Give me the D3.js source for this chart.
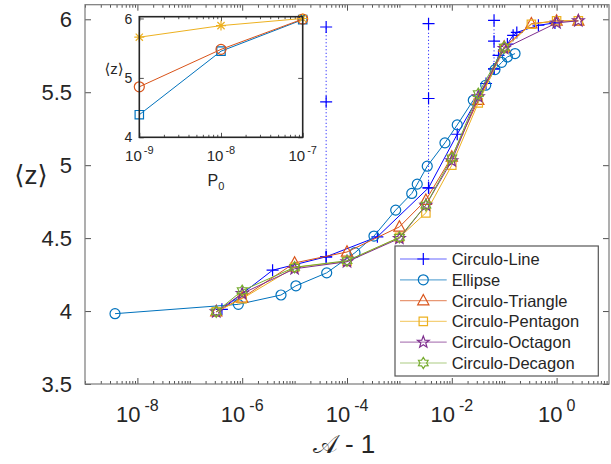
<!DOCTYPE html>
<html>
<head>
<meta charset="utf-8">
<script src="https://cdn.jsdelivr.net/npm/d3@7"></script>
<style>
  html, body { margin: 0; padding: 0; background: #fff; }
  svg { display: block; }
  text { font-family: "Liberation Sans", Arial, Helvetica, sans-serif; fill: #262626; }
</style>
</head>
<body>
<svg id="chart" width="611" height="464"></svg>
<script>
// ---- data -------------------------------------------------------------
const seriesNames = ["Circulo-Line", "Ellipse", "Circulo-Triangle", "Circulo-Pentagon", "Circulo-Octagon", "Circulo-Decagon"];

const lineA = [4.1e-7, 3.8e-6, 4e-5, 3.8e-4, 3.6e-3, 1.27e-2, 4.5e-2, 6.4e-2, 7.8e-2, 0.115, 0.148, 0.174, 0.45, 0.93];
const lineZ = [4.012, 4.28, 4.372, 4.509, 4.845, 5.212, 5.56, 5.66, 5.753, 5.83, 5.89, 5.91, 5.959, 5.975];

// Circulo-Line spread at three aspect ratios (dotted verticals)
const spreadA = [4e-5, 3.6e-3, 6.4e-2];
const spreadLow = [4.372, 4.845, 5.66];
const spreadMid = [5.434, 5.457, 5.85];
const spreadHigh = [5.947, 5.97, 5.993];

const ellipseA = [3.74e-9, 8.43e-7, 5.5e-6, 1.06e-5, 4.1e-5, 1.42e-4, 3.27e-4, 8.5e-4, 1.72e-3, 2.19e-3, 3.4e-3, 7.4e-3, 1.27e-2, 2.57e-2, 4.44e-2, 6.67e-2, 8.95e-2, 0.115, 0.161];
const ellipseZ = [3.982, 4.046, 4.11, 4.173, 4.262, 4.40, 4.514, 4.692, 4.806, 4.87, 4.993, 5.153, 5.276, 5.445, 5.548, 5.655, 5.705, 5.742, 5.765];

const triangleA = [3.2e-7, 1e-6, 1e-5, 1e-4, 1e-3, 3.2e-3, 1e-2, 3.2e-2, 0.1, 0.33, 1, 2.6];
const triangleZ = [3.995, 4.09, 4.33, 4.405, 4.577, 4.76, 5.057, 5.445, 5.81, 5.97, 5.988, 5.988];

const pentagonA = [3.2e-7, 1e-6, 1e-5, 1e-4, 1e-3, 3.2e-3, 1e-2, 3.2e-2, 0.1, 0.33, 1, 2.6];
const pentagonZ = [3.995, 4.085, 4.30, 4.34, 4.505, 4.673, 5.00, 5.427, 5.80, 5.966, 5.99, 5.99];

const octagonA = [3.2e-7, 1e-6, 1e-5, 1e-4, 1e-3, 3.2e-3, 1e-2, 3.2e-2, 0.1, 1, 2.6];
const octagonZ = [3.995, 4.12, 4.29, 4.338, 4.498, 4.726, 5.03, 5.47, 5.80, 5.975, 5.99];

const decagonA = [3.2e-7, 1e-6, 1e-5, 1e-4, 1e-3, 3.2e-3, 1e-2, 3.2e-2, 0.1];
const decagonZ = [3.995, 4.14, 4.30, 4.345, 4.505, 4.726, 5.05, 5.49, 5.81];

// inset: <z> against P0
const insetP = [1e-9, 1e-8, 1e-7];
const insetStarZ = [5.685, 5.88, 6.0];
const insetCircleZ = [4.85, 5.48, 5.99];
const insetSquareZ = [4.38, 5.45, 5.98];

const xTickExps = [-8, -6, -4, -2, 0];
const yTicks = [3.5, 4, 4.5, 5, 5.5, 6];
const insetXTickExps = [-9, -8, -7];
const insetYTicks = [4, 5, 6];

// ---- colours ----------------------------------------------------------
const C = {
  line: "#0000FF", ellipse: "#0072BD", tri: "#D95319",
  pent: "#EDB120", oct: "#7E2F8E", dec: "#77AC30"
};

// ---- marker paths -----------------------------------------------------
function plusPath(s) { return `M${-s},0H${s}M0,${-s}V${s}`; }
function asteriskPath(s) {
  const d = s * 0.72;
  return `M${-s},0H${s}M0,${-s}V${s}M${-d},${-d}L${d},${d}M${-d},${d}L${d},${-d}`;
}
function circlePath(r) { return `M${r},0A${r},${r} 0 1,1 ${-r},0A${r},${r} 0 1,1 ${r},0Z`; }
function squarePath(s) { return `M${-s},${-s}H${s}V${s}H${-s}Z`; }
function trianglePath(s) {
  return `M0,${-s * 1.1}L${s},${s * 0.75}L${-s},${s * 0.75}Z`;
}
function starPath(R, n, ratio) {
  const pts = [];
  for (let i = 0; i < 2 * n; i++) {
    const r = i % 2 === 0 ? R : R * ratio;
    const a = -Math.PI / 2 + i * Math.PI / n;
    pts.push([r * Math.cos(a), r * Math.sin(a)]);
  }
  return "M" + pts.map(p => p[0].toFixed(2) + "," + p[1].toFixed(2)).join("L") + "Z";
}
const markers = {
  plus: () => plusPath(6),
  circle: () => circlePath(5),
  triangle: () => trianglePath(5.6),
  square: () => squarePath(4.2),
  pentagram: () => starPath(6.2, 5, 0.42),
  hexagram: () => starPath(5.6, 6, 0.6),
  asterisk: () => asteriskPath(5)
};

// ---- main axes --------------------------------------------------------
const svg = d3.select("#chart");
svg.append("rect").attr("width", 611).attr("height", 464).attr("fill", "#fff");

const L = 85, R = 609, T = 4.7, B = 384;
const x = d3.scaleLog().domain([1e-9, 1e1]).range([L, R]);
const y = d3.scaleLinear().domain([3.5, 6.1]).range([B, T]);

const frameColor = "#7a7a7a";
const gAxes = svg.append("g");

// log-scale ticks: every k*10^n, majors at labelled decades
const minorVals = [];
for (let e = -9; e <= 0; e++) for (let k = 1; k <= 9; k++) {
  const v = k * Math.pow(10, e);
  if (k === 1 && xTickExps.includes(e)) continue;
  minorVals.push(v);
}
const majorVals = xTickExps.map(e => Math.pow(10, e));

function tickAxis(axisFn, scale, vals, size, tr) {
  const a = axisFn(scale).tickValues(vals).tickSize(size).tickFormat("");
  const g = gAxes.append("g").attr("transform", tr).call(a);
  g.select(".domain").remove();
  g.selectAll(".tick line").attr("stroke", "#262626").attr("stroke-width", 0.8);
  return g;
}
tickAxis(d3.axisBottom, x, minorVals, -3, `translate(0,${B})`);
tickAxis(d3.axisBottom, x, majorVals, -6, `translate(0,${B})`);
tickAxis(d3.axisTop, x, minorVals, -3, `translate(0,${T})`);
tickAxis(d3.axisTop, x, majorVals, -6, `translate(0,${T})`);
tickAxis(d3.axisLeft, y, yTicks, -6, `translate(${L},0)`);
tickAxis(d3.axisRight, y, yTicks, -6, `translate(${R},0)`);

gAxes.append("rect").attr("x", L).attr("y", T).attr("width", R - L).attr("height", B - T)
  .attr("fill", "none").attr("stroke", frameColor).attr("stroke-width", 1.2);

// tick labels
const yLab = svg.append("g");
yTicks.forEach(v => {
  yLab.append("text").attr("x", L - 13).attr("y", y(v)).attr("dy", "0.36em")
    .attr("text-anchor", "end").attr("font-size", 22).text(d3.format("")(v));
});
xTickExps.forEach(e => {
  const t = svg.append("text").attr("x", x(Math.pow(10, e))).attr("y", 422)
    .attr("text-anchor", "middle").attr("font-size", 22);
  t.append("tspan").text("10");
  t.append("tspan").attr("dx", 4).attr("dy", -11).attr("font-size", 16).text(String(e));
});

svg.append("text").attr("x", 344).attr("y", 453).attr("text-anchor", "middle")
  .attr("font-size", 26)
  .html('<tspan font-family="DejaVu Serif, serif">𝒜</tspan> - 1');
svg.append("text").attr("x", 31).attr("y", 175).attr("dy", "0.36em").attr("text-anchor", "middle")
  .attr("font-size", 26)
  .html('<tspan font-family="DejaVu Sans">⟨</tspan>z<tspan font-family="DejaVu Sans">⟩</tspan>');

// ---- data -------------------------------------------------------------
const plot = svg.append("g");

function drawSeries(g, xs, zs, color, marker, sx, sy) {
  const pts = xs.map((a, i) => [a, zs[i]]);
  g.append("path").attr("d", d3.line().x(d => sx(d[0])).y(d => sy(d[1]))(pts))
    .attr("fill", "none").attr("stroke", color).attr("stroke-width", 1);
  g.selectAll(null).data(pts).enter().append("path")
    .attr("transform", d => `translate(${sx(d[0])},${sy(d[1])})`)
    .attr("d", markers[marker]())
    .attr("fill", "none").attr("stroke", color).attr("stroke-width", 1.2);
}

// dotted spread lines for Circulo-Line
spreadA.forEach((a, i) => {
  const vals = [spreadLow[i], spreadMid[i], spreadHigh[i]];
  plot.append("line").attr("x1", x(a)).attr("x2", x(a))
    .attr("y1", y(spreadLow[i])).attr("y2", y(spreadHigh[i]))
    .attr("stroke", C.line).attr("stroke-width", 1).attr("stroke-dasharray", "1,2.5");
  vals.forEach(v => plot.append("path").attr("transform", `translate(${x(a)},${y(v)})`)
    .attr("d", markers.plus()).attr("fill", "none").attr("stroke", C.line).attr("stroke-width", 1.2));
});

drawSeries(plot, lineA, lineZ, C.line, "plus", x, y);
drawSeries(plot, ellipseA, ellipseZ, C.ellipse, "circle", x, y);
drawSeries(plot, triangleA, triangleZ, C.tri, "triangle", x, y);
drawSeries(plot, pentagonA, pentagonZ, C.pent, "square", x, y);
drawSeries(plot, octagonA, octagonZ, C.oct, "pentagram", x, y);
drawSeries(plot, decagonA, decagonZ, C.dec, "hexagram", x, y);

// ---- legend -----------------------------------------------------------
const leg = svg.append("g");
const lgX = 395, lgY = 246, lgW = 203.3, lgH = 130;
leg.append("rect").attr("x", lgX).attr("y", lgY).attr("width", lgW).attr("height", lgH)
  .attr("fill", "#fff").attr("stroke", "#555").attr("stroke-width", 1.2);
const legColors = [C.line, C.ellipse, C.tri, C.pent, C.oct, C.dec];
const legMarkers = ["plus", "circle", "triangle", "square", "pentagram", "hexagram"];
seriesNames.forEach((name, i) => {
  const cy = 259 + i * 20.8;
  leg.append("line").attr("x1", 400).attr("x2", 446.7).attr("y1", cy).attr("y2", cy)
    .attr("stroke", legColors[i]).attr("stroke-width", 1.2).attr("stroke-opacity", 0.6);
  leg.append("path").attr("transform", `translate(423.3,${cy})`).attr("d", markers[legMarkers[i]]())
    .attr("fill", "none").attr("stroke", legColors[i]).attr("stroke-width", 1.2);
  leg.append("text").attr("x", 451.7).attr("y", cy).attr("dy", "0.36em")
    .attr("font-size", 16.5).attr("fill", "#000").text(name);
});

// ---- inset ------------------------------------------------------------
const iL = 139.3, iR = 302.7, iT = 16.7, iB = 137.3;
const ix = d3.scaleLog().domain([1e-9, 1e-7]).range([iL, iR]);
const iy = d3.scaleLinear().domain([4, 6.03]).range([iB, iT]);
const inset = svg.append("g");
inset.append("rect").attr("x", iL).attr("y", iT).attr("width", iR - iL).attr("height", iB - iT)
  .attr("fill", "#fff");

const iMinor = [];
for (let e = -9; e < -7; e++) for (let k = 2; k <= 9; k++) iMinor.push(k * Math.pow(10, e));
const iMajor = insetXTickExps.map(e => Math.pow(10, e));
function insetTicks(axisFn, scale, vals, size, tr) {
  const g = inset.append("g").attr("transform", tr)
    .call(axisFn(scale).tickValues(vals).tickSize(size).tickFormat(""));
  g.select(".domain").remove();
  g.selectAll(".tick line").attr("stroke", "#262626").attr("stroke-width", 0.8);
}
insetTicks(d3.axisBottom, ix, iMinor, -2.5, `translate(0,${iB})`);
insetTicks(d3.axisBottom, ix, iMajor, -4.5, `translate(0,${iB})`);
insetTicks(d3.axisTop, ix, iMinor, -2.5, `translate(0,${iT})`);
insetTicks(d3.axisTop, ix, iMajor, -4.5, `translate(0,${iT})`);
insetTicks(d3.axisLeft, iy, insetYTicks, -4.5, `translate(${iL},0)`);
insetTicks(d3.axisRight, iy, insetYTicks, -4.5, `translate(${iR},0)`);

drawSeries(inset, insetP, insetSquareZ, C.ellipse, "square", ix, iy);
drawSeries(inset, insetP, insetCircleZ, C.tri, "circle", ix, iy);
drawSeries(inset, insetP, insetStarZ, C.pent, "asterisk", ix, iy);

inset.append("rect").attr("x", iL).attr("y", iT).attr("width", iR - iL).attr("height", iB - iT)
  .attr("fill", "none").attr("stroke", "#262626").attr("stroke-width", 1.6);

insetYTicks.forEach(v => {
  inset.append("text").attr("x", iL - 7).attr("y", iy(v)).attr("dy", "0.36em")
    .attr("text-anchor", "end").attr("font-size", 14).text(v);
});
insetXTickExps.forEach(e => {
  const t = inset.append("text").attr("x", ix(Math.pow(10, e))).attr("y", 161)
    .attr("text-anchor", "middle").attr("font-size", 15);
  t.append("tspan").text("10");
  t.append("tspan").attr("dx", 2).attr("dy", -7).attr("font-size", 11).text(String(e));
});
const p0 = inset.append("text").attr("x", 216).attr("y", 186).attr("text-anchor", "middle").attr("font-size", 16);
p0.append("tspan").text("P");
p0.append("tspan").attr("dy", 4).attr("font-size", 11).text("0");
inset.append("text").attr("x", 114).attr("y", 69).attr("dy", "0.36em").attr("text-anchor", "middle")
  .attr("font-size", 15)
  .html('<tspan font-family="DejaVu Sans">⟨</tspan>z<tspan font-family="DejaVu Sans">⟩</tspan>');
</script>
</body>
</html>
